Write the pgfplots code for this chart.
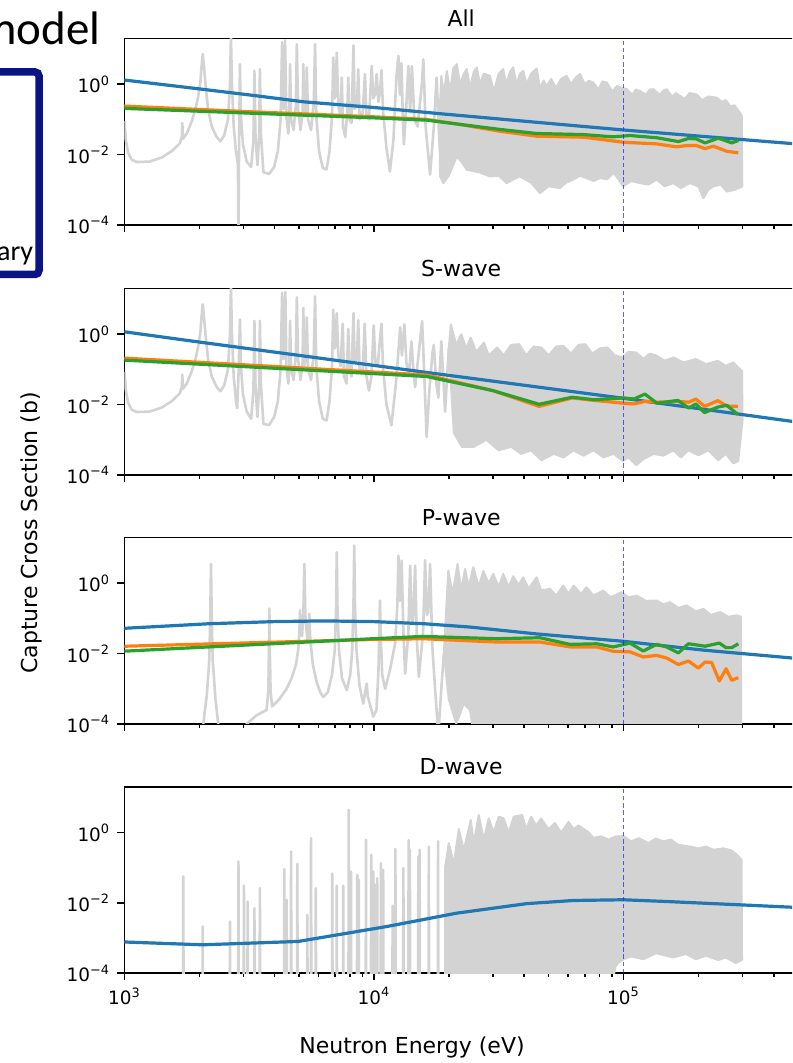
\documentclass[border=0pt]{standalone}
\usepackage{pgfplots}
\pgfplotsset{compat=1.18}
\usepackage{fontspec}
\setmainfont{DejaVu Sans}
\newfontfamily\calibri{Carlito}
\definecolor{mblue}{HTML}{1F77B4}
\definecolor{morange}{HTML}{FF7F0E}
\definecolor{mgreen}{HTML}{2CA02C}
\definecolor{lgray}{HTML}{D3D3D3}
\definecolor{navybox}{RGB}{10,20,130}
\definecolor{dashblue}{RGB}{40,40,255}

\pgfplotsset{
  panel/.style={
    scale only axis, width=336.75pt, height=93.25pt,
    xmin=3, xmax=5.69897, ymin=-4, ymax=1.30103,
    xtick={3,4,5},
    minor xtick={3.30103,3.47712,3.60206,3.69897,3.77815,3.84510,3.90309,3.95424,
                 4.30103,4.47712,4.60206,4.69897,4.77815,4.84510,4.90309,4.95424,
                 5.30103,5.47712,5.60206,5.69897},
    ytick={-4,-2,0},
    yticklabels={10\textsuperscript{−4},10\textsuperscript{−2},10\textsuperscript{0}},
    tick align=outside, xtick pos=bottom, ytick pos=left,
    major tick length=3.6pt, minor tick length=2.1pt,
    tick style={black, line width=0.8pt},
    axis line style={black, line width=0.8pt},
    tick label style={font=\fontsize{9.2}{11}\selectfont},
    every axis title/.style={at={(0.5,1)}, anchor=base, yshift=6.2pt, font=\fontsize{11}{13}\selectfont},
    clip=true,
  },
  gr/.style={lgray, line width=1.3pt, line join=round},
  band/.style={lgray, fill=lgray, line width=1.0pt, line join=round},
  bl/.style={mblue, line width=1.6pt, line join=round},
  orl/.style={morange, line width=1.6pt, line join=round},
  gnl/.style={mgreen, line width=1.6pt, line join=round},
  vd/.style={color=dashblue, draw opacity=0.75, line width=0.9pt, dash pattern=on 2.2pt off 1.4pt},
}

\begin{document}
\begin{tikzpicture}
\useasboundingbox (0pt,0pt) rectangle (396pt,531.5pt);
\clip (0pt,0pt) rectangle (396pt,531.5pt);

% ---------------- Panel 1 : All ----------------
\begin{axis}[panel, at={(62.2pt,419pt)}, anchor=south west, title={All}, xticklabels={}]
\addplot[gr] coordinates {
(3.000,-1.05) (3.006,-1.6) (3.015,-1.95) (3.03,-2.15) (3.05,-2.21) (3.10,-2.2) (3.15,-2.08) (3.19,-1.9) (3.222,-1.68)
(3.230,-1.5) (3.232,-1.1) (3.235,-1.55) (3.25,-1.4) (3.27,-1.05) (3.285,-0.7) (3.297,-0.3) (3.305,0.1) (3.309,0.5) (3.314,0.86)
(3.319,0.5) (3.325,0.0) (3.335,-0.7) (3.35,-1.2) (3.37,-1.5) (3.385,-1.62) (3.40,-1.45) (3.415,-1.0) (3.423,0.0) (3.427,1.35)
(3.431,0.0) (3.438,-1.2) (3.447,-1.9) (3.455,-2.3) (3.457,-4.5)
(3.459,-2.2) (3.461,-0.8) (3.463,0.57) (3.466,-0.8) (3.475,-1.7) (3.49,-2.2) (3.508,-2.35) (3.517,-1.6) (3.521,0.38) (3.525,-1.4)
(3.533,-2.3) (3.540,-1.5) (3.543,0.43) (3.547,-1.4) (3.557,-2.5) (3.58,-2.55) (3.60,-2.35) (3.615,-1.9) (3.626,-1.0) (3.632,1.2)
(3.637,-0.7) (3.641,-0.6) (3.644,1.25) (3.649,-0.9) (3.657,-1.4) (3.661,-0.9) (3.664,0.57) (3.668,-1.0) (3.678,-1.3) (3.687,-0.6) (3.691,1.14)
(3.696,-0.7) (3.706,-1.3) (3.714,-0.8) (3.717,0.57) (3.721,-0.9) (3.728,-0.6) (3.731,0.48) (3.736,-1.0) (3.748,-1.3) (3.759,-0.5) (3.764,1.14)
(3.769,-0.9) (3.78,-1.9) (3.795,-2.38) (3.81,-2.42) (3.822,-1.9) (3.832,-0.9) (3.837,0.76) (3.842,-0.4) (3.846,-0.3) (3.851,0.9) (3.857,-0.6)
(3.866,-0.9) (3.871,0.19) (3.876,-1.2) (3.885,-1.5) (3.893,-0.8) (3.897,0.19) (3.902,-1.0) (3.91,-1.1) (3.918,1.1) (3.923,-0.7) (3.932,-0.6) (3.937,0.43)
(3.943,-1.0) (3.955,-0.8) (3.964,0.29) (3.97,-0.9) (3.98,-1.0) (3.991,0.52) (3.997,-0.4) (4.004,-0.3) (4.011,0.29)
(4.018,-0.5) (4.025,-0.2) (4.03,0.4) (4.037,-0.8) (4.05,-1.8) (4.064,-2.48) (4.078,-1.6) (4.09,0.2) (4.098,0.81)
(4.104,-0.3) (4.11,0.6) (4.116,-1.0) (4.12,-1.71) (4.13,-0.6) (4.138,0.52) (4.145,-0.8) (4.152,0.52) (4.162,-1.0)
(4.175,-1.2) (4.192,0.0) (4.198,0.71) (4.207,-1.2) (4.225,-2.57) (4.24,-1.2) (4.251,0.19) (4.262,-1.6) (4.278,-2.76) (4.285,-1.0)
};
\addplot[band] coordinates {
(4.262,-1.0) (4.270,0.24) (4.280,-0.3) (4.292,0.38) (4.305,-0.2) (4.318,0.45) (4.332,0.57) (4.345,0.0)
(4.360,0.3) (4.372,0.43) (4.385,-0.1) (4.400,0.35) (4.412,0.48) (4.425,0.0) (4.440,0.3) (4.465,0.24)
(4.480,-0.2) (4.500,0.3) (4.518,0.43) (4.530,0.0) (4.545,0.35) (4.558,0.48) (4.572,0.0) (4.585,0.3)
(4.598,0.38) (4.612,0.0) (4.630,0.3) (4.652,0.45) (4.665,-0.1) (4.680,0.1) (4.692,-0.05) (4.710,0.15)
(4.730,-0.1) (4.750,0.15) (4.772,0.24) (4.790,0.0) (4.810,0.2) (4.826,0.29) (4.845,0.0) (4.862,0.1)
(4.879,0.05) (4.900,-0.15) (4.915,0.08) (4.933,0.05) (4.955,-0.2) (4.975,-0.05) (4.993,-0.10) (5.013,-0.14)
(5.035,-0.3) (5.050,-0.15) (5.066,-0.19) (5.090,-0.3) (5.105,-0.15) (5.120,-0.14) (5.145,-0.3) (5.160,-0.18)
(5.173,-0.14) (5.195,-0.35) (5.210,-0.25) (5.226,-0.33) (5.245,-0.42) (5.265,-0.25) (5.293,-0.29) (5.315,-0.45)
(5.340,-0.35) (5.373,-0.38) (5.395,-0.5) (5.410,-0.45) (5.427,-0.62) (5.445,-0.6) (5.467,-0.81) (5.474,-0.9)
(5.476,-2.905) (5.445,-3.0) (5.414,-3.05) (5.39,-2.85) (5.36,-2.905) (5.34,-3.0) (5.32,-3.24) (5.30,-2.9)
(5.266,-2.81) (5.23,-2.95) (5.2,-2.81) (5.165,-2.9) (5.133,-2.71) (5.10,-2.85) (5.066,-2.81) (5.03,-2.75)
(4.998,-2.905) (4.98,-2.7) (4.96,-2.52) (4.935,-2.7) (4.906,-2.667) (4.88,-2.75) (4.852,-2.667) (4.825,-2.6)
(4.799,-2.71) (4.77,-2.8) (4.745,-2.95) (4.70,-2.9) (4.665,-3.095) (4.63,-2.8) (4.585,-2.62) (4.56,-2.7)
(4.532,-2.81) (4.50,-2.6) (4.465,-2.62) (4.42,-2.5) (4.372,-2.43) (4.35,-2.2) (4.332,-2.05) (4.30,-2.6)
(4.278,-2.81) (4.265,-2.62) (4.262,-1.0)
};
\addplot[bl] coordinates {(3.0,0.12) (3.31,-0.14) (3.52,-0.32) (3.72,-0.50) (4.0,-0.66) (4.27,-0.84) (4.65,-1.08) (5.0,-1.30) (5.35,-1.50) (5.7,-1.70)};
\addplot[orl] coordinates {(3.0,-0.62) (3.5,-0.78) (3.984,-0.92) (4.211,-1.0) (4.345,-1.143) (4.5,-1.33) (4.652,-1.476) (4.839,-1.505) (4.946,-1.60) (4.998,-1.648) (5.133,-1.695) (5.213,-1.78) (5.253,-1.743) (5.293,-1.743) (5.327,-1.83) (5.36,-1.76) (5.414,-1.905) (5.46,-1.95)};
\addplot[gnl] coordinates {(3.0,-0.686) (3.984,-0.95) (4.211,-1.02) (4.345,-1.14) (4.5,-1.28) (4.652,-1.40) (4.839,-1.43) (4.959,-1.495) (5.026,-1.457) (5.133,-1.52) (5.22,-1.629) (5.26,-1.543) (5.29,-1.55) (5.327,-1.667) (5.38,-1.533) (5.434,-1.667) (5.46,-1.6)};
\addplot[vd] coordinates {(5,-4) (5,1.30103)};
\end{axis}

% ---------------- Panel 2 : S-wave ----------------
\begin{axis}[panel, at={(62.2pt,294pt)}, anchor=south west, title={S-wave}, xticklabels={}]
\addplot[gr] coordinates {
(3.000,-1.08) (3.006,-1.6) (3.015,-1.95) (3.03,-2.15) (3.05,-2.21) (3.10,-2.2) (3.15,-2.08) (3.19,-1.9) (3.222,-1.68)
(3.230,-1.5) (3.232,-1.15) (3.235,-1.55) (3.25,-1.4) (3.27,-1.05) (3.285,-0.7) (3.297,-0.3) (3.305,0.1) (3.309,0.5) (3.314,0.85)
(3.319,0.5) (3.325,0.0) (3.335,-0.7) (3.35,-1.2) (3.37,-1.5) (3.385,-1.62) (3.40,-1.45) (3.415,-1.0) (3.423,0.0) (3.427,1.35)
(3.431,0.0) (3.438,-1.2) (3.447,-1.9) (3.452,-2.1) (3.458,-1.0) (3.463,0.42) (3.467,-0.9) (3.475,-1.7) (3.49,-2.2) (3.508,-2.4)
(3.517,-1.6) (3.521,0.38) (3.525,-1.4) (3.533,-2.35) (3.540,-1.5) (3.543,0.38) (3.547,-1.4) (3.557,-2.55) (3.58,-2.58) (3.60,-2.35)
(3.615,-1.9) (3.626,-1.0) (3.632,1.18) (3.637,-0.7) (3.641,-0.6) (3.645,1.2) (3.649,-0.9) (3.657,-1.4) (3.661,-0.9) (3.664,0.38)
(3.668,-1.0) (3.678,-1.3) (3.687,-0.6) (3.691,1.05) (3.696,-0.7) (3.706,-1.3) (3.714,-0.8) (3.717,0.75) (3.721,-0.9) (3.728,-0.6)
(3.731,0.48) (3.736,-1.0) (3.748,-1.3) (3.759,-0.5) (3.764,1.08) (3.769,-0.9) (3.78,-1.9) (3.795,-2.4) (3.81,-2.45) (3.822,-1.9)
(3.832,-0.9) (3.837,0.7) (3.842,-0.4) (3.846,-0.3) (3.851,0.6) (3.857,-0.6) (3.866,-0.9) (3.875,0.3) (3.88,-1.2) (3.89,-1.4)
(3.897,0.15) (3.902,-1.0) (3.91,-1.2) (3.918,0.6) (3.923,-0.8) (3.932,-0.7) (3.937,0.4) (3.943,-1.1) (3.955,-1.0) (3.963,0.3)
(3.97,-1.2) (3.98,-1.6) (3.99,-1.2) (3.999,0.25) (4.006,-0.8) (4.015,-0.9) (4.03,0.3) (4.037,-1.0) (4.05,-2.0) (4.07,-2.59) (4.088,-1.4)
(4.1,-0.3) (4.105,0.2) (4.112,-0.6) (4.122,0.28) (4.13,-0.8) (4.14,-1.2) (4.15,-0.2) (4.158,-1.0) (4.165,-1.5) (4.18,-0.5) (4.193,0.376)
(4.202,-1.2) (4.211,-2.92) (4.222,-1.6) (4.235,-0.5) (4.24,-0.3) (4.25,-1.4) (4.258,-1.8) (4.27,-0.2) (4.28,-1.5) (4.285,-2.2) (4.30,-0.4)
};
\addplot[band] coordinates {
(4.30,-0.4) (4.308,0.28) (4.33,-0.3) (4.35,0.0) (4.37,-0.4) (4.388,-0.095) (4.41,-0.5) (4.441,-0.236)
(4.46,-0.6) (4.494,-0.377) (4.52,-0.6) (4.55,-0.3) (4.582,-0.283) (4.61,-0.6) (4.64,-0.35) (4.671,-0.377)
(4.70,-0.6) (4.73,-0.35) (4.759,-0.33) (4.79,-0.55) (4.82,-0.3) (4.847,-0.283) (4.875,-0.55) (4.905,-0.4)
(4.936,-0.377) (4.965,-0.6) (4.998,-0.66) (5.02,-0.5) (5.051,-0.52) (5.08,-0.7) (5.105,-0.55) (5.13,-0.6)
(5.165,-0.75) (5.201,-0.66) (5.24,-0.8) (5.29,-0.706) (5.33,-0.85) (5.378,-0.753) (5.41,-0.9) (5.44,-0.8)
(5.46,-0.95) (5.475,-1.04)
(5.477,-2.45) (5.46,-3.6) (5.44,-3.67) (5.41,-3.4) (5.38,-3.58) (5.34,-3.3) (5.30,-3.44) (5.26,-3.3)
(5.23,-3.5) (5.20,-3.3) (5.16,-3.45) (5.12,-3.4) (5.08,-3.55) (5.051,-3.72) (5.02,-3.5) (4.998,-3.6)
(4.96,-3.4) (4.92,-3.5) (4.88,-3.3) (4.84,-3.45) (4.80,-3.3) (4.76,-3.5) (4.72,-3.4) (4.671,-3.58)
(4.63,-3.3) (4.59,-3.4) (4.55,-3.2) (4.50,-3.3) (4.45,-3.0) (4.40,-3.2) (4.352,-3.2) (4.32,-2.8) (4.30,-0.4)
};
\addplot[bl] coordinates {(3,0.07) (3.309,-0.23) (4.211,-1.085) (5.0,-1.82) (5.7,-2.50)};
\addplot[orl] coordinates {(3.0,-0.678) (4.211,-1.158) (4.476,-1.6) (4.662,-2.05) (4.794,-1.81) (4.883,-1.88) (5.0,-1.96) (5.042,-1.98) (5.086,-1.907) (5.134,-1.93) (5.218,-1.91) (5.262,-1.93) (5.29,-1.84) (5.325,-2.05) (5.378,-1.887) (5.414,-2.04) (5.458,-2.05)};
\addplot[gnl] coordinates {(3.0,-0.735) (4.211,-1.2) (4.476,-1.6) (4.662,-1.99) (4.794,-1.79) (4.883,-1.86) (5.0,-1.81) (5.042,-1.84) (5.086,-1.70) (5.134,-1.96) (5.218,-1.88) (5.262,-2.1) (5.29,-1.98) (5.325,-2.226) (5.378,-2.07) (5.414,-2.02) (5.458,-2.28)};
\addplot[vd] coordinates {(5,-4) (5,1.30103)};
\end{axis}

% ---------------- Panel 3 : P-wave ----------------
\begin{axis}[panel, at={(62.2pt,169.5pt)}, anchor=south west, title={P-wave}, xticklabels={}]
\addplot[gr] coordinates {
(3.0,-5) (3.30,-4.6) (3.316,-4.0) (3.33,-3.2) (3.34,-2.2) (3.344,-1.0) (3.347,0.55) (3.350,-1.0) (3.354,-2.2) (3.365,-3.3)
(3.376,-4.0) (3.40,-4.8) (3.47,-4.6) (3.49,-4.0) (3.53,-3.75) (3.57,-3.6) (3.577,-3.0) (3.579,-2.0) (3.581,-0.72) (3.583,-2.0)
(3.586,-3.1) (3.592,-3.5) (3.62,-3.3) (3.65,-3.0) (3.67,-2.7) (3.688,-2.3) (3.698,-1.8) (3.702,-1.2) (3.704,-0.77) (3.707,-1.4)
(3.712,-1.5) (3.717,-0.9) (3.721,0.55) (3.725,-0.9) (3.733,-1.6) (3.738,-1.4) (3.741,-0.87) (3.745,-1.6) (3.755,-2.3) (3.77,-2.8)
(3.785,-3.1) (3.797,-3.23) (3.815,-3.1) (3.832,-2.6) (3.843,-1.9) (3.848,-0.8) (3.851,0.88) (3.854,-0.8) (3.86,-1.9) (3.872,-2.7)
(3.891,-3.04) (3.905,-2.6) (3.913,-1.9) (3.918,-0.6) (3.921,1.07) (3.924,-0.6) (3.93,-1.9) (3.942,-2.9) (3.957,-3.42) (3.967,-3.0)
(3.971,-2.85) (3.975,-3.2) (3.997,-3.79) (4.01,-3.6) (4.018,-2.5) (4.022,-1.2) (4.024,-0.49) (4.027,-1.4) (4.033,-2.6) (4.045,-3.0)
(4.064,-2.47) (4.085,-1.7) (4.094,-0.6) (4.098,0.785) (4.104,-0.5) (4.111,0.643) (4.118,-1.4) (4.125,-2.57) (4.138,-1.4) (4.145,0.5)
(4.152,-1.1) (4.158,-1.0) (4.165,0.5) (4.172,-1.6) (4.18,-2.66) (4.197,-1.4) (4.205,0.66) (4.212,-0.9) (4.218,-0.8) (4.225,0.548) (4.234,-1.8)
(4.245,-3.0) (4.258,-4.3) (4.27,-3.0) (4.28,-2.0)
};
\addplot[band] coordinates {
(4.28,-2.0) (4.298,0.36) (4.315,-0.3) (4.335,0.548) (4.35,-0.2) (4.365,0.406) (4.38,-0.1) (4.398,0.454)
(4.42,-0.1) (4.438,0.35) (4.46,0.0) (4.478,0.265) (4.50,-0.1) (4.518,0.265) (4.54,-0.1) (4.558,0.2)
(4.58,-0.05) (4.598,0.17) (4.62,-0.15) (4.652,0.17) (4.67,-0.2) (4.706,-0.16) (4.73,-0.35) (4.759,-0.066)
(4.78,-0.3) (4.80,-0.066) (4.83,-0.3) (4.852,-0.113) (4.88,-0.35) (4.919,-0.207) (4.95,-0.4) (4.99,-0.255)
(5.02,-0.4) (5.053,-0.35) (5.09,-0.5) (5.133,-0.49) (5.16,-0.6) (5.186,-0.538) (5.22,-0.7) (5.253,-0.632)
(5.29,-0.8) (5.32,-0.727) (5.35,-0.9) (5.387,-0.82) (5.42,-0.95) (5.454,-0.915) (5.47,-0.95)
(5.472,-4.3) (4.40,-4.3) (4.385,-3.6) (4.36,-3.42) (4.33,-4.0) (4.30,-3.3) (4.28,-2.0)
};
\addplot[bl] coordinates {(3.0,-1.28) (3.34,-1.15) (3.6,-1.09) (3.8,-1.07) (4.0,-1.09) (4.2,-1.15) (4.385,-1.245) (4.652,-1.44) (5.0,-1.65) (5.32,-1.9) (5.7,-2.14)};
\addplot[orl] coordinates {(3.0,-1.79) (3.984,-1.6) (4.198,-1.576) (4.492,-1.67) (4.665,-1.67) (4.786,-1.81) (4.893,-1.81) (4.959,-1.935) (5.026,-1.95) (5.079,-2.095) (5.133,-2.05) (5.173,-2.125) (5.22,-2.31) (5.26,-2.21) (5.3,-2.41) (5.327,-2.24) (5.353,-2.25) (5.384,-2.78) (5.411,-2.43) (5.434,-2.76) (5.46,-2.68)};
\addplot[gnl] coordinates {(3.0,-1.93) (3.984,-1.58) (4.198,-1.51) (4.492,-1.576) (4.665,-1.548) (4.786,-1.737) (4.893,-1.72) (4.959,-1.81) (5.026,-1.70) (5.079,-1.925) (5.133,-1.737) (5.173,-1.81) (5.22,-1.98) (5.26,-1.72) (5.3,-1.76) (5.327,-1.79) (5.384,-1.70) (5.411,-1.83) (5.434,-1.83) (5.46,-1.72)};
\addplot[vd] coordinates {(5,-4) (5,1.30103)};
\end{axis}

% ---------------- Panel 4 : D-wave ----------------
\begin{axis}[panel, at={(62.2pt,44.85pt)}, anchor=south west, title={D-wave},
  xticklabels={10\textsuperscript{3},10\textsuperscript{4},10\textsuperscript{5}}]
\addplot[gr] coordinates {
(3.0,-4.6) (3.235,-4.6) (3.236,-1.25) (3.237,-4.6) (3.313,-4.6) (3.314,-2.67) (3.315,-4.6)
(3.422,-4.6) (3.423,-2.53) (3.424,-4.6) (3.456,-4.6) (3.457,-0.823) (3.458,-4.6) (3.478,-4.6) (3.479,-1.51) (3.480,-4.6)
(3.493,-4.6) (3.494,-1.96) (3.495,-4.6) (3.520,-4.6) (3.521,-2.15) (3.522,-4.6) (3.542,-4.6) (3.543,-1.58) (3.544,-4.6)
(3.640,-4.6) (3.641,-1.04) (3.642,-4.6) (3.649,-4.6) (3.650,-1.91) (3.651,-4.6) (3.667,-4.6) (3.668,-0.54) (3.669,-4.6)
(3.692,-4.6) (3.693,-0.89) (3.694,-4.6) (3.732,-4.6) (3.733,-2.34) (3.734,-4.6) (3.747,-4.6) (3.748,-0.16) (3.749,-4.6)
(3.766,-4.6) (3.767,-1.58) (3.768,-4.6) (3.832,-4.6) (3.833,-1.17) (3.834,-4.6) (3.850,-4.6) (3.851,-1.51) (3.852,-4.6)
(3.876,-4.6) (3.877,-1.51) (3.878,-4.6) (3.898,-4.6) (3.899,0.645) (3.900,-4.6) (3.907,-4.6) (3.908,-1.11) (3.909,-4.6)
(3.932,-4.6) (3.933,-1.2) (3.934,-4.6) (3.938,-4.6) (3.939,-1.34) (3.940,-4.6) (3.967,-4.6) (3.968,-0.21) (3.969,-4.6)
(3.988,-4.6) (3.989,-0.633) (3.990,-4.6) (3.996,-4.6) (3.997,-1.11) (3.998,-4.6) (4.004,-4.6) (4.005,-1.49) (4.006,-4.6)
(4.012,-4.6) (4.013,-1.3) (4.014,-4.6) (4.027,-4.6) (4.028,-0.87) (4.029,-4.6) (4.036,-4.6) (4.037,-1.06) (4.038,-4.6)
(4.074,-4.6) (4.075,-2.08) (4.076,-4.6) (4.085,-4.6) (4.086,-0.47) (4.087,-4.6) (4.117,-4.6) (4.118,-1.01) (4.119,-4.6)
(4.138,-4.6) (4.139,-0.21) (4.140,-4.6) (4.143,-4.6) (4.144,-0.49) (4.145,-4.6) (4.177,-4.6) (4.178,-0.68) (4.179,-4.6)
(4.182,-4.6) (4.183,-0.49) (4.184,-4.6) (4.219,-4.6) (4.220,-0.4) (4.221,-4.6) (4.256,-4.6) (4.257,-0.25) (4.258,-4.6)
(4.29,-4.6)
};
\addplot[band] coordinates {
(4.285,-4.3) (4.285,-1.0) (4.30,-0.3) (4.32,-0.9) (4.34,0.1) (4.36,-0.5) (4.388,0.36) (4.40,-0.3) (4.42,0.5)
(4.44,-0.2) (4.46,0.4) (4.48,0.0) (4.50,0.45) (4.519,0.41) (4.54,0.0) (4.56,0.45) (4.594,0.5) (4.61,0.1)
(4.63,0.45) (4.65,0.2) (4.67,0.4) (4.70,0.1) (4.725,0.27) (4.75,0.0) (4.78,0.3) (4.80,0.1) (4.82,0.2)
(4.856,0.03) (4.88,-0.15) (4.91,-0.11) (4.94,-0.2) (4.97,-0.11) (5.00,-0.1) (5.03,-0.25) (5.062,-0.16)
(5.10,-0.3) (5.13,-0.17) (5.16,-0.25) (5.19,-0.2) (5.22,-0.35) (5.268,-0.4) (5.30,-0.45) (5.33,-0.4)
(5.361,-0.49) (5.40,-0.45) (5.43,-0.5) (5.45,-0.6) (5.473,-0.776)
(5.475,-3.62) (5.45,-3.71) (5.41,-3.55) (5.38,-3.62) (5.33,-3.5) (5.29,-3.6) (5.25,-3.45) (5.2,-3.55)
(5.13,-3.43) (5.08,-3.6) (5.03,-3.52) (5.0,-3.6) (4.98,-3.7) (4.968,-3.81) (4.955,-4.3) (4.285,-4.3)
};
\addplot[bl] coordinates {(3.0,-3.11) (3.313,-3.19) (3.696,-3.095) (4.052,-2.67) (4.332,-2.29) (4.612,-2.02) (4.8,-1.93) (5.0,-1.91) (5.174,-1.96) (5.455,-2.05) (5.7,-2.13)};
\addplot[vd] coordinates {(5,-4) (5,1.30103)};
\end{axis}

% ---------------- labels and slide fragments ----------------
\node[rotate=90, font=\fontsize{11}{13}\selectfont] at (15.5pt,265pt) {Capture Cross Section (b)};
\node[font=\fontsize{11}{13}\selectfont] at (206pt,8pt) {Neutron Energy (eV)};
\node[anchor=base east, inner sep=0pt, font=\calibri\fontsize{23.5}{26}\selectfont] at (50.5pt,509pt) {model};
\draw[navybox, line width=3.75pt, rounded corners=2pt] (-15pt,394.25pt) rectangle (19.5pt,495.5pt);
\node[anchor=base east, inner sep=0pt, font=\calibri\fontsize{14}{16}\selectfont] at (16.75pt,401pt) {ary};
\end{tikzpicture}
\end{document}
